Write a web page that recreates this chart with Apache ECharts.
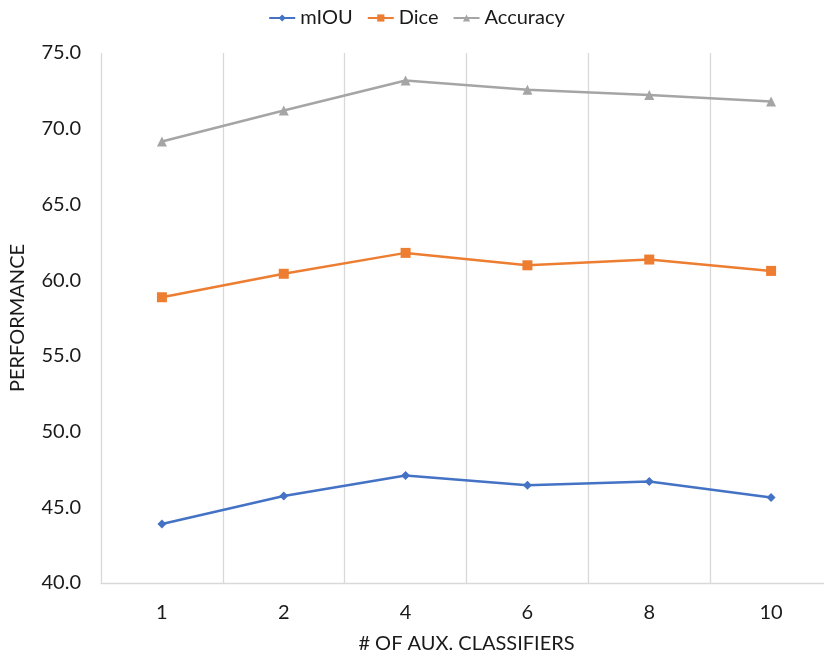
<!DOCTYPE html>
<html>
<head>
<meta charset="utf-8">
<script src="https://cdn.jsdelivr.net/npm/echarts@6/dist/echarts.min.js"></script>
<style>
  html, body { margin: 0; padding: 0; background: #fff; overflow: hidden; }
  /* the plot area runs slightly past the right edge of the page */
  #chart { width: 833px; height: 659px; }
</style>
</head>
<body>
<div id="chart"></div>
<script>
// Number of auxiliary classifiers on the x axis
const classifiers = ['1', '2', '4', '6', '8', '10'];

// Performance per configuration
const miou = [43.9, 45.75, 47.1, 46.46, 46.7, 45.65];
const dice = [58.87, 60.42, 61.8, 60.98, 61.36, 60.61];
const accuracy = [69.16, 71.2, 73.18, 72.58, 72.23, 71.79];

const FONT = 'Lato';
const TEXT = '#1a1a1a';

const chart = echarts.init(document.getElementById('chart'), null, { renderer: 'canvas' });

function lineSeries(name, data, color, symbol, size) {
  return {
    name: name,
    type: 'line',
    data: data,
    symbol: symbol,
    symbolSize: size,
    showAllSymbol: true,
    lineStyle: { color: color, width: 2.5 },
    itemStyle: { color: color },
    emphasis: { disabled: true },
    animation: false
  };
}

chart.setOption({
  backgroundColor: '#ffffff',
  animation: false,
  textStyle: { fontFamily: FONT },
  legend: {
    top: 3,
    left: 'center',
    itemWidth: 26,
    itemHeight: 9,
    itemGap: 14,
    textStyle: { fontFamily: FONT, fontSize: 20, color: TEXT },
    data: ['mIOU', 'Dice', 'Accuracy']
  },
  grid: { left: 98, right: 1, top: 53, bottom: 74, containLabel: false },
  xAxis: {
    type: 'category',
    data: classifiers,
    boundaryGap: true,
    name: '# OF AUX. CLASSIFIERS',
    nameLocation: 'middle',
    nameGap: 51,
    nameTextStyle: { fontFamily: FONT, fontSize: 20, color: TEXT },
    axisLine: { show: true, lineStyle: { color: '#d9d9d9', width: 1.3 } },
    axisTick: { show: false },
    axisLabel: { fontFamily: FONT, fontSize: 20, color: TEXT, margin: 20 },
    splitLine: { show: true, lineStyle: { color: '#d9d9d9', width: 1.3 } }
  },
  yAxis: {
    type: 'value',
    min: 40,
    max: 75,
    interval: 5,
    name: 'PERFORMANCE',
    nameLocation: 'middle',
    nameGap: 73,
    nameTextStyle: { fontFamily: FONT, fontSize: 20, color: TEXT },
    axisLine: { show: false },
    axisTick: { show: false },
    axisLabel: {
      fontFamily: FONT, fontSize: 20, color: TEXT, margin: 20,
      formatter: v => v.toFixed(1)
    },
    splitLine: { show: false }
  },
  series: [
    lineSeries('mIOU', miou, '#4472c4', 'diamond', 9),
    lineSeries('Dice', dice, '#ed7d31', 'rect', 10),
    lineSeries('Accuracy', accuracy, '#a5a5a5', 'triangle', 10)
  ]
});
</script>
</body>
</html>
